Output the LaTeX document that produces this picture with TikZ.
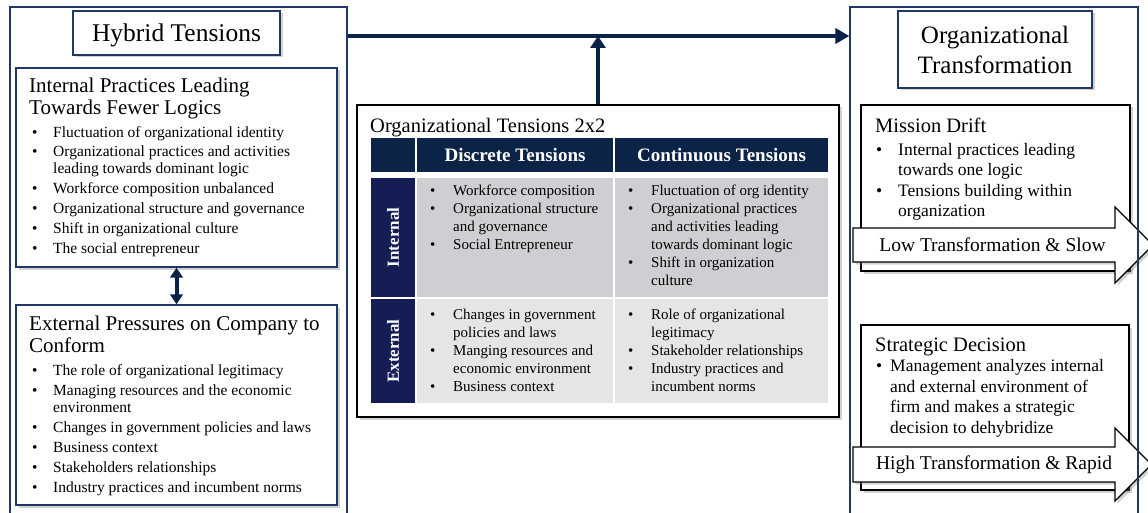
\documentclass[tikz,border=0pt]{standalone}
\usepackage{fontspec}
\setmainfont{Liberation Serif}
\usetikzlibrary{arrows.meta,shadows}

\definecolor{navy}{RGB}{12,35,72}
\definecolor{navyline}{RGB}{31,56,100}
\definecolor{rowlab}{RGB}{20,30,85}
\definecolor{cellint}{RGB}{206,207,210}
\definecolor{cellext}{RGB}{228,229,231}

\newcommand{\fsz}[2]{\fontsize{#1}{#2}\selectfont}
\newcommand{\bul}[1][21pt]{\makebox[#1][l]{\textbullet}}
\newcommand{\ind}[1][21pt]{\hspace*{#1}}

\begin{document}
\begin{tikzpicture}[x=1pt,y=-1pt,
  shad/.style={drop shadow={opacity=0.35,shadow xshift=2.5pt,shadow yshift=-2.5pt}},
  panel/.style={draw=navyline,line width=1.2pt,inner sep=0pt},
  box/.style={draw=navyline,line width=1.3pt,fill=white,shad,inner sep=0pt},
  bbox/.style={draw=black,line width=1.3pt,fill=white,shad,inner sep=0pt},
  colhead/.style={fill=navy,text=white,inner sep=0pt,font=\fsz{19}{22}\bfseries},
  rowhead/.style={fill=rowlab,text=white,inner sep=0pt,font=\fsz{17}{20}\bfseries},
  cin/.style={fill=cellint,inner sep=0pt},
  cex/.style={fill=cellext,inner sep=0pt},
  txt/.style={inner sep=0pt,anchor=north west,align=left},
  bigarrow/.style={draw=black,line width=1.3pt,fill=white,shad},
  flow/.style={navy,line width=4.5pt,-{Triangle[length=14pt,width=15pt]}},
  twoway/.style={navy,line width=4pt,{Triangle[length=10pt,width=12.5pt]}-{Triangle[length=10pt,width=12.5pt]}}]
\useasboundingbox (0,0) rectangle (1148,513);
\clip (0,0) rectangle (1148,513);
\fill[white] (0,0) rectangle (1148,513);

% left column
\node[box,minimum width=207pt,minimum height=44pt,font=\fsz{25.5}{28},text depth=0pt] (htitle) at (176.5,33) {Hybrid Tensions};
\node[box,minimum width=321pt,minimum height=199pt] (intbox) at (176.5,167.5) {};
\node[txt,font=\fsz{21}{21.5}] (inttitle) at (29,78) {Internal Practices Leading\\Towards Fewer Logics};
\node[txt,font=\fsz{15.5}{17}] (intlist) at (32,126) {\bul Fluctuation of organizational identity\\[2.8pt]
  \bul Organizational practices and activities\\
  \ind leading towards dominant logic\\[2.8pt]
  \bul Workforce composition unbalanced\\[2.8pt]
  \bul Organizational structure and governance\\[2.8pt]
  \bul Shift in organizational culture\\[2.8pt]
  \bul The social entrepreneur};
\node[box,minimum width=321pt,minimum height=200pt] (extbox) at (176.5,405) {};
\node[txt,font=\fsz{21}{22.5}] (exttitle) at (29,315.5) {External Pressures on Company to\\Conform};
\node[txt,font=\fsz{15.5}{17}] (extlist) at (32,364.3) {\bul The role of organizational legitimacy\\[3pt]
  \bul Managing resources and the economic\\
  \ind environment\\[3pt]
  \bul Changes in government policies and laws\\[3pt]
  \bul Business context\\[3pt]
  \bul Stakeholders relationships\\[3pt]
  \bul Industry practices and incumbent norms};

% 2x2 grid
\node[bbox,minimum width=482pt,minimum height=312pt] (grid) at (598,261) {};
\node[txt,font=\fsz{20.5}{22}] (gtitle) at (370,117.6) {Organizational Tensions 2x2};
\node[colhead,minimum width=44pt,minimum height=34pt] (hcorner) at (393,155) {};
\node[colhead,minimum width=196pt,minimum height=34pt] (hdisc) at (515,155) {Discrete Tensions};
\node[colhead,minimum width=213pt,minimum height=34pt] (hcont) at (721.5,155) {Continuous Tensions};
\node[rowhead,rotate=90,minimum width=119pt,minimum height=44pt] (rint) at (393,237.5) {Internal};
\node[rowhead,rotate=90,minimum width=104pt,minimum height=44pt] (rext) at (393,351) {External};
\node[cin,minimum width=196pt,minimum height=119pt] (cdi) at (515,237.5) {};
\node[cin,minimum width=213pt,minimum height=119pt] (cci) at (721.5,237.5) {};
\node[cex,minimum width=196pt,minimum height=104pt] (cde) at (515,351) {};
\node[cex,minimum width=213pt,minimum height=104pt] (cce) at (721.5,351) {};
\node[txt,font=\fsz{15}{18}] (ldi) at (430,184.8) {\bul[23pt]Workforce composition\\
  \bul[23pt]Organizational structure\\
  \ind[23pt]and governance\\
  \bul[23pt]Social Entrepreneur};
\node[txt,font=\fsz{15}{18}] (lci) at (628,184.8) {\bul[23pt]Fluctuation of org identity\\
  \bul[23pt]Organizational practices\\
  \ind[23pt]and activities leading\\
  \ind[23pt]towards dominant logic\\
  \bul[23pt]Shift in organization\\
  \ind[23pt]culture};
\node[txt,font=\fsz{15}{18}] (lde) at (430,309.1) {\bul[23pt]Changes in government\\
  \ind[23pt]policies and laws\\
  \bul[23pt]Manging resources and\\
  \ind[23pt]economic environment\\
  \bul[23pt]Business context};
\node[txt,font=\fsz{15}{18}] (lce) at (628,309.1) {\bul[23pt]Role of organizational\\
  \ind[23pt]legitimacy\\
  \bul[23pt]Stakeholder relationships\\
  \bul[23pt]Industry practices and\\
  \ind[23pt]incumbent norms};

% right column
\node[box,minimum width=194pt,minimum height=77pt,font=\fsz{25}{30},align=center] (ttitle) at (995,49.5) {Organizational\\Transformation};
\node[bbox,minimum width=269pt,minimum height=166pt] (mdbox) at (995.5,188) {};
\node[txt,font=\fsz{20.5}{22}] (mdtitle) at (875,117.6) {Mission Drift};
\node[txt,font=\fsz{17.5}{20}] (mdlist) at (876,142.9) {\bul[22pt]Internal practices leading\\
  \ind[22pt]towards one logic\\[1.7pt]
  \bul[22pt]Tensions building within\\
  \ind[22pt]organization};
\draw[bigarrow] (853,228) -- (1115,228) -- (1115,207) -- (1153,245) -- (1115,283) -- (1115,262) -- (853,262) -- cycle;
\node[font=\fsz{19.5}{22}] (low) at (992.5,245) {Low Transformation \& Slow};
\node[bbox,minimum width=268pt,minimum height=165pt] (sdbox) at (995,407.5) {};
\node[txt,font=\fsz{20.5}{22}] (sdtitle) at (875,337.6) {Strategic Decision};
\node[txt,font=\fsz{17.5}{20.4}] (sdlist) at (876,359.6) {\bul[14pt]Management analyzes internal\\
  \ind[14pt]and external environment of\\
  \ind[14pt]firm and makes a strategic\\
  \ind[14pt]decision to dehybridize};
\draw[bigarrow] (853,447) -- (1115,447) -- (1115,428) -- (1151.5,464.5) -- (1115,501) -- (1115,482) -- (853,482) -- cycle;
\node[font=\fsz{19.5}{22}] (high) at (994,464.5) {High Transformation \& Rapid};

% outer frames and links
\node[panel,minimum width=337pt,minimum height=560pt] (hybrid) at (178.5,287) {};
\node[panel,minimum width=288pt,minimum height=560pt] (transf) at (994,287) {};
\coordinate (top) at (598,36);
\draw[flow] (hybrid.east |- top) -- (transf.west |- top);
\draw[flow,-{Triangle[length=12pt,width=15pt]}] (grid.north) -- (top);
\draw[twoway] (intbox.south) -- (extbox.north);
\end{tikzpicture}
\end{document}
